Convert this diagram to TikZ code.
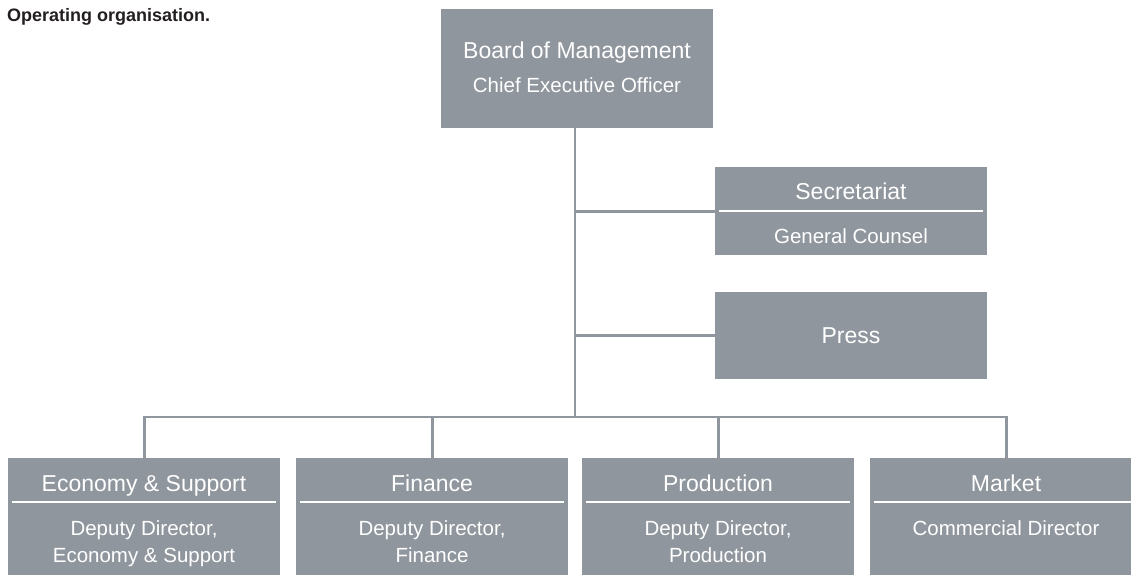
\documentclass[tikz,border=0pt]{standalone}
\usepackage{fontspec}
\setmainfont{Liberation Sans}
\definecolor{boxgrey}{HTML}{8F969D}
\definecolor{titlecol}{HTML}{231F20}
\tikzset{
  box/.style={fill=boxgrey, draw=none, minimum width=272pt, inner sep=0pt, anchor=north west},
  conn/.style={draw=boxgrey, line width=2.6pt},
  divider/.style={draw=white, line width=2pt},
  big/.style={text=white, inner sep=0pt, anchor=base, font=\fontsize{23}{27}\selectfont},
  small/.style={text=white, inner sep=0pt, anchor=base, align=center, font=\fontsize{20.5}{27}\selectfont},
}
\begin{document}
\begin{tikzpicture}[x=1pt,y=1pt]
\path[use as bounding box] (0,0) rectangle (1131,-574);
\clip (0,0) rectangle (1131,-574);

\node[inner sep=0pt, anchor=base west, text=titlecol, font=\fontsize{18}{20}\selectfont\bfseries] (title) at (7,-21) {Operating organisation.};

% boxes
\node[box, minimum height=119pt] (top) at (441,-9) {};
\node[box, minimum height=88pt] (sec) at (715,-167) {};
\node[box, minimum height=87pt] (press) at (715,-292) {};
\node[box, minimum height=140pt] (b1) at (8,-458) {};
\node[box, minimum height=140pt] (b2) at (296,-458) {};
\node[box, minimum height=140pt] (b3) at (582,-458) {};
\node[box, minimum height=140pt] (b4) at (870,-458) {};

\coordinate (spine) at (575,-9);
\coordinate (bus) at (575,-417);

% connectors
\draw[conn] (spine |- top.south) -- (bus);
\draw[conn] (sec.west) -- (sec.west -| bus);
\draw[conn] (press.west) -- (press.west -| bus);
\draw[conn] (b1.north) -- (b1.north |- bus) -- (b4.north |- bus) -- (b4.north);
\draw[conn] (b2.north) -- (b2.north |- bus);
\draw[conn] (b3.north) -- (b3.north |- bus);

% dividers
\draw[divider] ([shift={(4,-44)}]sec.north west) -- ([shift={(-4,-44)}]sec.north east);
\foreach \b in {b1,b2,b3,b4}{
  \draw[divider] ([shift={(4,-44)}]\b.north west) -- ([shift={(-4,-44)}]\b.north east);
}

% texts
\node[big] (topt) at (577,-58) {Board of Management};
\node[small] (tops) at (577,-92) {Chief Executive Officer};
\node[big] (sect) at (851,-199) {Secretariat};
\node[small] (secs) at (851,-243) {General Counsel};
\node[big] (presst) at (851,-343) {Press};

% two-line nodes: base anchor is the last line's baseline
\node[big] (b1t) at (144,-491) {Economy \& Support};
\node[small] (b1s) at (144,-562) {Deputy Director,\\Economy \& Support};
\node[big] (b2t) at (432,-491) {Finance};
\node[small] (b2s) at (432,-562) {Deputy Director,\\Finance};
\node[big] (b3t) at (718,-491) {Production};
\node[small] (b3s) at (718,-562) {Deputy Director,\\Production};
\node[big] (b4t) at (1006,-491) {Market};
\node[small] (b4s) at (1006,-535) {Commercial Director};
\end{tikzpicture}
\end{document}
